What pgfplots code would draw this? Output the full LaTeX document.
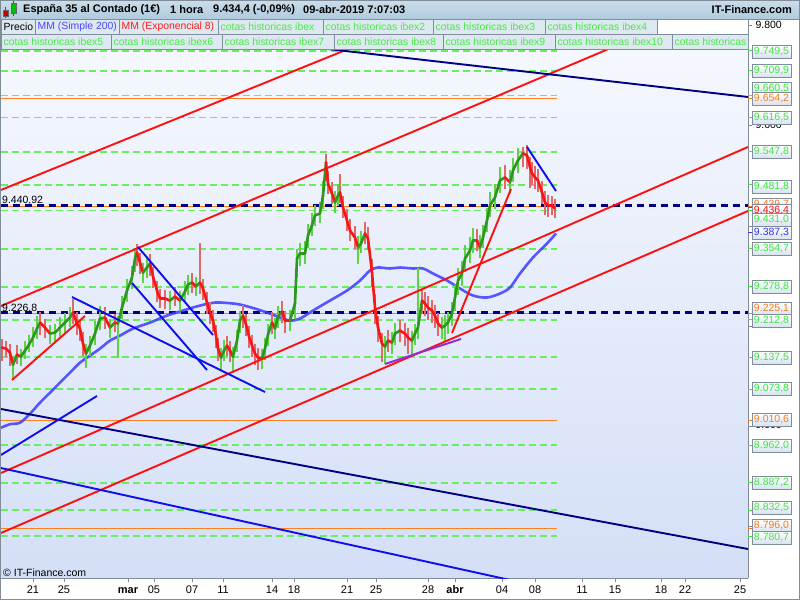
\documentclass[border=0pt]{standalone}
\usepackage{pgfplots}
\pgfplotsset{compat=1.18}
\usepackage{pgfplotstable}
\usepackage{fontspec}
\setmainfont{Liberation Sans}

\definecolor{bgtop}{RGB}{247,249,254}
\definecolor{bgbot}{RGB}{212,223,247}
\definecolor{axisgray}{RGB}{128,140,152}
\definecolor{lvlgreen}{RGB}{105,238,95}
\definecolor{lvlorange}{RGB}{250,130,30}
\definecolor{navyl}{RGB}{0,0,128}
\definecolor{trred}{RGB}{255,15,15}
\definecolor{trblue}{RGB}{15,15,235}
\definecolor{trpurple}{RGB}{140,45,215}
\definecolor{maline}{RGB}{60,60,255}
\definecolor{emagreen}{RGB}{45,150,30}
\definecolor{emared}{RGB}{250,20,20}
\definecolor{wickgreen}{RGB}{95,210,70}
\definecolor{wickred}{RGB}{225,105,105}
\definecolor{hdrtop}{RGB}{202,221,233}
\definecolor{hdrbot}{RGB}{176,203,221}
\definecolor{legfill}{RGB}{222,232,240}
\definecolor{legborder}{RGB}{128,142,156}
\definecolor{leggreen}{RGB}{70,235,70}
\definecolor{legblue}{RGB}{70,70,255}
\definecolor{legred}{RGB}{250,30,30}
\definecolor{lblgreen}{RGB}{60,232,60}
\definecolor{lblorange}{RGB}{245,125,25}
\definecolor{lblblue}{RGB}{50,50,250}
\definecolor{lblred}{RGB}{245,20,20}
\definecolor{lblbot}{RGB}{214,226,240}

\newcommand{\leg}{\fontsize{10.4}{12}\selectfont}
\newcommand{\ttl}{\fontsize{11}{13}\selectfont}
\newcommand{\sm}{\fontsize{10.5}{12}\selectfont}

% hourly price: x, ema8, rising flag, candle low, candle high
\pgfplotstableread{
x v m lo hi
2 9157 0 9131 9175
6 9155 0 9139 9171
10 9147 0 9121 9165
13 9123 1 9093 9141
17 9143 0 9125 9163
21 9139 1 9121 9155
25 9151 1 9135 9171
29 9163 1 9149 9183
33 9177 1 9159 9199
37 9195 1 9175 9221
40 9207 0 9183 9229
45 9197 0 9177 9215
50 9185 1 9165 9203
55 9187 1 9171 9205
60 9197 1 9179 9219
65 9207 1 9187 9227
70 9217 1 9199 9239
73 9227 0 9205 9255
77 9205 0 9183 9229
80 9195 0 9171 9213
83 9165 0 9141 9189
86 9145 1 9117 9165
90 9161 1 9141 9181
95 9185 1 9163 9211
100 9215 1 9193 9241
105 9217 0 9195 9239
110 9197 1 9177 9215
115 9207 0 9189 9225
118 9205 1 9137 9221
122 9237 1 9215 9261
127 9271 1 9249 9295
132 9297 1 9275 9321
135 9335 1 9309 9355
137 9347 0 9321 9363
140 9327 0 9305 9345
143 9307 1 9287 9327
147 9317 1 9297 9339
150 9325 0 9301 9343
153 9299 0 9277 9319
157 9271 0 9249 9291
160 9255 0 9237 9275
165 9255 0 9235 9273
170 9251 1 9233 9271
175 9259 0 9241 9279
180 9251 1 9231 9271
185 9269 1 9249 9291
188 9283 1 9263 9303
192 9287 0 9267 9307
196 9279 1 9261 9299
200 9287 0 9265 9365
203 9275 0 9253 9295
207 9247 0 9225 9269
210 9227 0 9205 9249
213 9211 0 9189 9233
216 9181 0 9157 9203
218 9155 0 9131 9177
221 9137 1 9113 9157
224 9151 1 9131 9173
227 9161 0 9141 9181
230 9151 0 9129 9171
233 9139 1 9107 9159
237 9171 1 9149 9193
240 9211 1 9187 9231
243 9221 0 9197 9243
246 9203 0 9181 9225
249 9179 0 9157 9201
252 9161 0 9139 9183
255 9145 0 9123 9165
258 9137 0 9113 9157
262 9135 1 9115 9155
265 9155 1 9133 9177
268 9183 1 9161 9205
272 9207 0 9185 9229
275 9195 1 9175 9217
278 9219 1 9197 9241
282 9229 0 9207 9251
285 9211 0 9187 9231
290 9211 1 9191 9233
295 9245 1 9215 9281
297 9335 1 9297 9353
300 9345 1 9321 9365
305 9345 1 9325 9369
308 9381 1 9355 9403
312 9401 1 9379 9425
315 9421 1 9399 9441
320 9425 1 9405 9447
323 9461 1 9433 9489
326 9527 0 9489 9543
328 9485 0 9463 9509
332 9465 0 9443 9487
335 9447 1 9425 9469
338 9461 1 9439 9483
340 9467 0 9445 9503
343 9437 0 9415 9459
347 9411 0 9389 9433
350 9391 0 9369 9413
355 9377 0 9353 9399
358 9357 1 9325 9379
361 9365 1 9345 9389
365 9385 0 9363 9407
368 9375 0 9351 9397
372 9307 0 9279 9333
375 9237 0 9205 9265
378 9197 0 9169 9221
382 9165 0 9129 9187
385 9159 1 9125 9181
388 9171 0 9149 9193
392 9167 1 9145 9189
395 9185 1 9163 9207
400 9191 0 9169 9213
405 9185 0 9161 9207
408 9177 0 9145 9197
412 9171 1 9143 9191
415 9185 1 9163 9205
418 9197 1 9175 9317
422 9251 0 9225 9275
425 9245 0 9221 9269
428 9237 0 9213 9261
432 9231 0 9207 9253
435 9221 0 9197 9243
438 9205 0 9181 9227
442 9197 1 9175 9219
445 9201 1 9171 9223
448 9207 1 9185 9229
452 9225 1 9201 9249
455 9257 1 9231 9283
458 9291 1 9263 9317
462 9305 1 9281 9331
465 9335 1 9309 9361
470 9351 1 9327 9377
473 9371 1 9345 9395
477 9371 0 9349 9393
480 9357 1 9335 9381
483 9377 1 9355 9401
487 9411 1 9387 9435
490 9441 1 9417 9467
495 9457 1 9433 9483
500 9491 1 9465 9517
505 9497 0 9473 9521
510 9487 1 9463 9511
513 9511 1 9487 9535
518 9531 1 9505 9555
523 9545 0 9517 9557
527 9541 0 9513 9561
530 9517 0 9475 9537
532 9505 0 9481 9527
535 9497 0 9473 9519
538 9491 0 9467 9513
542 9467 0 9443 9489
545 9447 0 9421 9469
548 9441 0 9417 9461
552 9441 0 9421 9459
555 9435 0 9415 9453
}\price

% simple moving average 200
\pgfplotstableread{
x v
1 8997
10 9004
20 9007
30 9025
40 9047
50 9067
60 9087
72 9111
80 9127
90 9141
100 9155
110 9171
120 9181
133 9195
150 9207
167 9221
183 9231
200 9241
215 9247
228 9246
240 9243
255 9235
270 9225
280 9217
290 9211
300 9215
313 9231
330 9251
347 9271
360 9291
370 9311
378 9317
390 9315
400 9317
413 9315
423 9315
433 9305
447 9291
460 9275
473 9261
487 9257
500 9265
510 9277
520 9305
533 9337
547 9365
556 9385
}\mma

\tikzset{
  lbl/.style={draw=legborder, line width=0.8pt, top color=white, bottom color=lblbot,
    minimum width=39pt, minimum height=13pt, inner sep=0pt, font=\sm},
  trend/.style={line width=1.9pt}
}
% right labels: line y, box y (image px from top), colour, text
\newcommand{\lab}[4]{%
  \draw[#3, line width=1pt] (748,{600-#1}) -- (752,{600-#1});
  \node[lbl, text=#3] at (771.5,{600-#2}) {#4};}
% legend boxes: x1, x2, top y, colour, text
\newcommand{\legbox}[5]{%
  \draw[legborder, fill=legfill, line width=0.8pt] (#1,#3) rectangle (#2,{#3-15});
  \node[anchor=west, inner sep=0pt, text=#4, font=\leg] at ({#1+2.5},{#3-7.5}) {#5};}

\begin{document}
\begin{tikzpicture}[x=1pt,y=1pt]
\useasboundingbox (0,0) rectangle (800,600);
\fill[white] (0,0) rectangle (800,600);

\begin{axis}[
  at={(1pt,22pt)}, anchor=south west,
  scale only axis, width=747pt, height=561pt,
  xmin=1, xmax=748, ymin=8696.8, ymax=9817.4,
  axis x line*=bottom, axis y line*=right,
  axis line style={draw=axisgray, line width=0.8pt},
  axis background/.style={shade, top color=bgtop, bottom color=bgbot},
  xtick={33,64,128,154,192,223,272,294,347,376,428,455,502,535,582,615,661,685,740},
  xticklabels={21,25,\textbf{mar},05,07,11,14,18,21,25,28,\textbf{abr},04,08,11,15,18,22,25},
  ytick={8800,9000,9200,9400,9600,9800},
  yticklabels={8.800,9.000,9.200,9.400,9.600,9.800},
  tick align=outside, major tick length=4pt,
  tick style={draw=axisgray, line width=0.8pt},
  ticklabel style={font=\ttl},
  typeset ticklabels with strut,
  xticklabel style={yshift=1pt},
  yticklabel style={font=\sm},
]
% historic levels
\pgfplotsinvokeforeach{9749.5,9709.9,9660.5,9616.5,9547.8,9481.8,9431.0,9354.7,9278.8,9212.8,9137.5,9073.8,8962.0,8887.2,8832.5,8780.7}{
  \addplot[lvlgreen, line width=1.8pt, dash pattern=on 7pt off 4pt] coordinates {(1,#1) (557,#1)};
}
\pgfplotsinvokeforeach{9654.2,9439.7,9225.1,9010.6,8796.0}{
  \addplot[lvlorange, line width=1.1pt] coordinates {(1,#1) (557,#1)};
}
\pgfplotsinvokeforeach{9440.92,9226.8}{
  \addplot[navyl, line width=2.4pt, dash pattern=on 7pt off 5pt] coordinates {(1,#1) (748,#1)};
}

% moving average
\addplot[maline, line width=2.6pt, opacity=0.85, smooth] table[x=x, y=v]{\mma};

% candles
\addplot[draw=none, mark=none, forget plot, restrict expr to domain={\thisrow{m}}{0.5:1.5},
  error bars/.cd, y dir=plus, y explicit, error mark=none,
  error bar style={draw=wickgreen, solid, line width=1.4pt}]
  table[x=x, y=lo, y error plus expr=\thisrow{hi}-\thisrow{lo}]{\price};
\addplot[draw=none, mark=none, forget plot, restrict expr to domain={\thisrow{m}}{-0.5:0.5},
  error bars/.cd, y dir=plus, y explicit, error mark=none,
  error bar style={draw=wickred, solid, line width=1.4pt}]
  table[x=x, y=lo, y error plus expr=\thisrow{hi}-\thisrow{lo}]{\price};

% exponential average 8, green when rising
\addplot[mesh, shader=flat corner, point meta=explicit, point meta min=0, point meta max=1,
  colormap={ema}{color=(emared) color=(emagreen)}, line width=2.6pt, line cap=round]
  table[x=x, y=v, meta=m]{\price};

% trend lines
\addplot[trred, trend] coordinates {(1,9471.9) (380,9779.3)};
\addplot[trred, trend] coordinates {(1,9240.1) (748,9871.4)};
\addplot[trred, trend] coordinates {(1,8906.5) (748,9557.8)};
\addplot[trred, trend] coordinates {(1,8786.7) (748,9429.9)};
\addplot[trred, trend] coordinates {(12,9092.3) (85,9220.2)};
\addplot[trred, trend] coordinates {(452,9186.2) (511,9473.8)};
\addplot[navyl, trend] coordinates {(240,9773.5) (748,9657.6)};
\addplot[navyl, trend] coordinates {(1,9034.4) (748,8754.7)};
\addplot[trblue, trend] coordinates {(1,8916.5) (560,8670.8)};
\addplot[trblue, trend] coordinates {(1,8942.5) (97,9060.4)};
\addplot[trblue, trend] coordinates {(72,9258.1) (265,9068.3)};
\addplot[trblue, trend] coordinates {(138,9358.0) (213,9182.2)};
\addplot[trblue, trend] coordinates {(132,9286.1) (207,9112.3)};
\addplot[trblue, trend] coordinates {(527,9557.8) (556,9469.8)};
\addplot[trpurple, trend] coordinates {(385,9124.3) (461,9174.2)};

\node[anchor=base west, inner sep=0pt, font=\sm, yshift=1.5pt] at (axis cs:2,9440.92) {9.440,92};
\node[anchor=base west, inner sep=0pt, font=\sm, yshift=1.5pt] at (axis cs:2,9226.8) {9.226,8};
\end{axis}

% copyright
\node[anchor=west, inner sep=0pt, font=\sm] at (3,27) {© IT-Finance.com};

% right value labels
\lab{51.0}{52}{lblgreen}{9.749,5}
\lab{70.8}{71}{lblgreen}{9.709,9}
\lab{95.6}{89}{lblgreen}{9.660,5}
\lab{98.7}{99}{lblorange}{9.654,2}
\lab{117.6}{118}{lblgreen}{9.616,5}
\lab{152.0}{152}{lblgreen}{9.547,8}
\lab{185.0}{187}{lblgreen}{9.481,8}
\lab{206.1}{205}{lblorange}{9.439,7}
\lab{207.7}{211}{lblred}{9.436,4}
\lab{232.3}{233}{lblblue}{9.387,3}
\lab{210.5}{220}{lblgreen}{9.431,0}
\lab{248.6}{249}{lblgreen}{9.354,7}
\lab{286.6}{287}{lblgreen}{9.278,8}
\lab{313.5}{309}{lblorange}{9.225,1}
\lab{319.7}{321}{lblgreen}{9.212,8}
\lab{357.4}{358}{lblgreen}{9.137,5}
\lab{389.3}{389}{lblgreen}{9.073,8}
\lab{420.9}{420}{lblorange}{9.010,6}
\lab{445.2}{446}{lblgreen}{8.962,0}
\lab{482.7}{483}{lblgreen}{8.887,2}
\lab{510.1}{508}{lblgreen}{8.832,5}
\lab{528.3}{526}{lblorange}{8.796,0}
\lab{536.0}{538}{lblgreen}{8.780,7}

% legend rows
\legbox{1}{35}{581}{black}{Precio}
\legbox{35}{119}{581}{legblue}{MM (Simple 200)}
\legbox{119}{218}{581}{legred}{MM (Exponencial 8)}
\legbox{218}{323}{581}{leggreen}{cotas historicas ibex}
\legbox{323}{433}{581}{leggreen}{cotas historicas ibex2}
\legbox{433}{545}{581}{leggreen}{cotas historicas ibex3}
\legbox{545}{657}{581}{leggreen}{cotas historicas ibex4}
\draw[legborder, fill=white, line width=0.8pt] (657,581) rectangle (748,566);
\legbox{1}{111}{566}{leggreen}{cotas historicas ibex5}
\legbox{111}{222}{566}{leggreen}{cotas historicas ibex6}
\legbox{222}{334}{566}{leggreen}{cotas historicas ibex7}
\legbox{334}{443}{566}{leggreen}{cotas historicas ibex8}
\legbox{443}{555}{566}{leggreen}{cotas historicas ibex9}
\legbox{555}{672}{566}{leggreen}{cotas historicas ibex10}
\begin{scope}
\clip (672,567) rectangle (748,550);
\legbox{672}{760}{566}{leggreen}{cotas historicas ibex11}
\end{scope}

% title bar
\shade[top color=hdrtop, bottom color=hdrbot] (0,581) rectangle (800,600);
\draw[legborder, line width=0.8pt] (0,581) -- (800,581);
\draw[black!70, line width=0.6pt] (5.5,593) -- (5.5,581.5);
\draw[black!60, line width=0.5pt, fill=red!80!black] (3,590) rectangle (8,584);
\draw[black!70, line width=0.6pt] (13.5,598.5) -- (13.5,584);
\draw[black!60, line width=0.5pt, fill=green!75!black] (11,597) rectangle (16,587);
\node[anchor=west, inner sep=0pt, font=\ttl\bfseries] at (23,590) {España 35 al Contado (1€)};
\node[anchor=west, inner sep=0pt, font=\ttl\bfseries] at (170,590) {1 hora};
\node[anchor=west, inner sep=0pt, font=\ttl\bfseries] at (213,590) {9.434,4 (-0,09\%)};
\node[anchor=west, inner sep=0pt, font=\ttl\bfseries] at (303,590) {09-abr-2019 7:07:03};
\node[anchor=east, inner sep=0pt, font=\ttl\bfseries] at (792,590) {IT-Finance.com};

\draw[axisgray, line width=1pt] (0.5,0.5) rectangle (799.5,599.5);
\end{tikzpicture}
\end{document}
